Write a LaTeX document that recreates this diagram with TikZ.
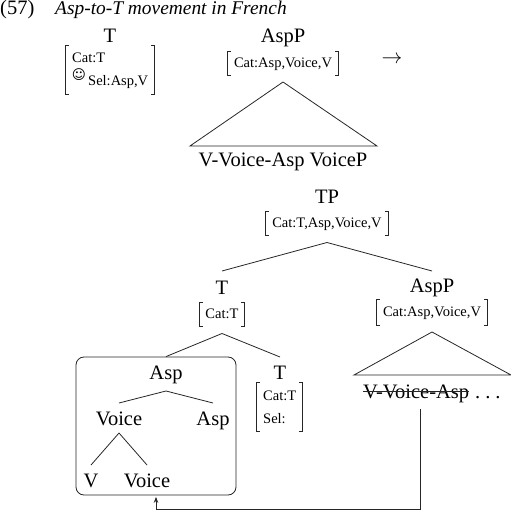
\documentclass[tikz,border=0pt]{standalone}
\usepackage{fontspec}
\usetikzlibrary{arrows.meta}
\setmainfont{Liberation Serif}
\newfontfamily\symfont{DejaVu Sans}
\newcommand{\brak}[1]{
	\draw[branch] ([shift={(3pt,-7pt)}]#1.north west) -- ++(-3pt,0) -- ([shift={(0pt,7pt)}]#1.south west) -- ++(3pt,0);
	\draw[branch] ([shift={(-3pt,-7pt)}]#1.north east) -- ++(3pt,0) -- ([shift={(0pt,7pt)}]#1.south east) -- ++(-3pt,0);
}
\begin{document}
\begin{tikzpicture}[
				x=1pt, y=-1pt,
				branch/.style={draw, line width=0.8pt, black!85},
				lbl/.style={anchor=base, inner sep=0pt, text height=14pt, text depth=0pt, outer ysep=8pt, font=\fontsize{20.5}{22}\selectfont},
				feat/.style={anchor=base, inner xsep=0pt, inner ysep=0pt, text height=16.5pt, text depth=7.5pt, outer ysep=7pt, font=\fontsize{14.5}{16}\selectfont},
				small/.style={anchor=base west, inner sep=0pt, font=\fontsize{14.5}{16}\selectfont},
				plain/.style={anchor=base west, inner sep=0pt, font=\fontsize{20.5}{22}\selectfont},
				movearrow/.style={draw, line width=0.8pt, black!85, -{Stealth[length=6pt, width=4.5pt]}, shorten >=1.5pt}
				]
				\useasboundingbox (0,0) rectangle (511,510);
				\node[plain] (exno) at (0,15) {(57)};
				\node[plain, font=\fontsize{19.4}{22}\selectfont] (extitle) at (55,15) {\itshape Asp-to-T movement in French};

				% before the movement
				\node[lbl] (t) at (110,43) {T};
				\node[feat, minimum width=88pt, text height=49pt, text depth=0pt] (tf) at (110,94) {};
				\node[small] (tcat) at (72,63) {Cat:T};
				\node[anchor=center, inner sep=0pt, font=\symfont\fontsize{13.5}{16}\selectfont] (tsmile) at (79,75) {☺};
				\node[small] (tsel) at (88,86) {Sel:Asp,V};
				\node[lbl] (asp) at (283,43) {AspP};
				\node[feat, minimum width=110pt] (aspf) at (283,67.5) {Cat:Asp,Voice,V};
				\node[lbl] (vp) at (283,167) {V-Voice-Asp VoiceP};
				\node[anchor=center, inner sep=0pt, font=\fontsize{20}{22}\selectfont] (arr) at (392,60) {$\rightarrow$};
				\coordinate (aspl) at (190,146);
				\coordinate (aspr) at (377,146);
				\draw[branch] (aspf.south) -- (aspl) -- (aspr) -- cycle;

				% after the movement
				\node[lbl] (tp) at (327,204) {TP};
				\node[feat, minimum width=122pt] (tpf) at (327,228) {Cat:T,Asp,Voice,V};
				\node[lbl, outer ysep=10pt] (tb) at (222,295) {T};
				\node[feat, minimum width=44pt] (tbf) at (222,319) {Cat:T};
				\node[lbl] (aspb) at (432,293) {AspP};
				\node[feat, minimum width=110pt, outer ysep=8pt] (aspbf) at (432,316.5) {Cat:Asp,Voice,V};
				\draw[branch] (tpf.south) -- (tb.north);
				\draw[branch] (tpf.south) -- (aspb.north);

				\coordinate (aspbl) at (354,375);
				\coordinate (aspbr) at (511,375);
				\draw[branch] (aspbf.south) -- (aspbl) -- (aspbr) -- cycle;
				\node[plain] (vva) at (363,398) {V-Voice-Asp};
				\node[plain] (dots) at (475,398) {.\hspace{5pt}.\hspace{5pt}.};
				\draw[branch] ([yshift=7pt]vva.base west) -- ([yshift=7pt]vva.base east);

				% head complex in the box
				\node[draw, line width=0.8pt, black!85, rounded corners=8pt, minimum width=160pt, minimum height=138pt, inner sep=0pt] (headbox) at (156,426) {};
				\node[lbl, text depth=4pt] (aspc) at (166,379) {Asp};
				\node[lbl, text depth=0pt] (voice) at (119,425) {Voice};
				\node[lbl] (aspd) at (213,425) {Asp};
				\node[lbl] (v) at (91,487) {V};
				\node[lbl] (voiceb) at (147,487) {Voice};
				\draw[branch] (aspc.south) -- (voice.north);
				\draw[branch] (aspc.south) -- (aspd.north);
				\draw[branch] (voice.south) -- (v.north);
				\draw[branch] (voice.south) -- (voiceb.north);

				\node[lbl] (tc) at (280,379) {T};
				\node[feat, minimum width=45pt, text height=49pt, text depth=0pt] (tcf) at (279.5,431) {};
				\node[small] (tccat) at (263,400) {Cat:T};
				\node[small] (tcsel) at (263,423) {Sel:};
				\draw[branch] (tbf.south) -- (headbox.north -| aspc);
				\draw[branch] (tbf.south) -- (tc.north);

				\foreach \n in {tf,aspf,tpf,tbf,aspbf,tcf} {
					\brak{\n}
				}

				% the arrow of the movement
				\coordinate (mvstart) at (420,409);
				\coordinate (mvturn) at (156,509);
				\draw[movearrow] (mvstart) |- (mvturn) -- (headbox.south);
			\end{tikzpicture}
\end{document}
